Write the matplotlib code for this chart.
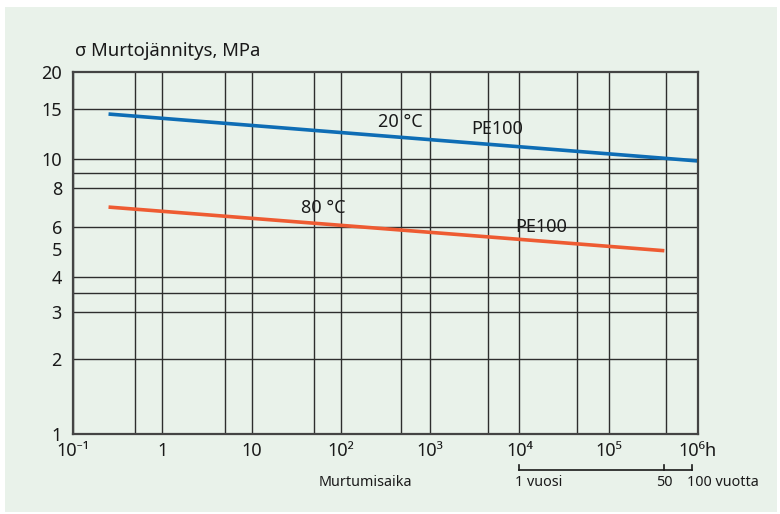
import matplotlib
matplotlib.use('Agg')
import matplotlib.pyplot as plt
from matplotlib.patches import Rectangle
from matplotlib.transforms import offset_copy
import numpy as np

plt.rcParams['font.family'] = ['Noto Sans', 'DejaVu Sans']

# PE100 murtojännitys (MPa) vs. murtumisaika (h), luettu kuvasta
hours_20c = [0.25, 1e6]
stress_20c = [14.4, 9.85]
hours_80c = [0.25, 4.2e5]
stress_80c = [6.95, 4.95]

x_tick_values = [1e-1, 1, 10, 1e2, 1e3, 1e4, 1e5, 1e6]
x_tick_labels = ['10⁻¹', '1', '10', '10²', '10³', '10⁴', '10⁵', '10⁶h']
x_grid_extra = [0.5, 5, 50, 470, 4400, 44000, 440000]
y_tick_values = [1, 2, 3, 4, 5, 6, 8, 10, 15, 20]
y_grid_values = [2, 3, 3.5, 4, 6, 8, 9, 10, 15]
year_marks_h = [1e4, 4.2e5, 8.5e5]
year_labels = ['1 vuosi', '50', '100 vuotta']

# the printed stress axis is not a clean log axis, so map it piecewise
y_cal = np.log10([1, 2, 3, 4, 6, 8, 10, 15, 20])
y_cal_frac = (434 - np.array([434, 359, 312, 277, 227, 188, 159, 109, 72])) / 362.0


def y_forward(y):
    y = np.clip(np.asarray(y, dtype=float), 1e-6, None)
    return np.interp(np.log10(y), y_cal, y_cal_frac)


def y_inverse(f):
    return 10 ** np.interp(f, y_cal_frac, y_cal)


BG = '#e9f2ea'
GRID = '#2e2e2e'
INK = '#1a1a1a'

fig = plt.figure(figsize=(7.8, 5.14), dpi=100)
fig.patch.set_facecolor('white')
fig.patches.append(Rectangle((5 / 780, 2 / 514), 772 / 780, 505 / 514,
                             transform=fig.transFigure, facecolor=BG,
                             edgecolor='none', zorder=-1))

ax = fig.add_axes([73 / 780, 80 / 514, 625 / 780, 362 / 514])
ax.set_facecolor(BG)
ax.set_xscale('log')
ax.set_yscale('function', functions=(y_forward, y_inverse))
ax.set_xlim(0.1, 1e6)
ax.set_ylim(1, 20)

ax.set_xticks(x_tick_values)
ax.set_xticklabels(x_tick_labels)
ax.set_xticks(x_grid_extra, minor=True)
ax.set_yticks(y_tick_values)
ax.set_yticklabels([str(v) for v in y_tick_values])
ax.set_yticks(y_grid_values, minor=True)
ax.yaxis.remove_overlapping_locs = False
ax.xaxis.set_minor_formatter(matplotlib.ticker.NullFormatter())
ax.yaxis.set_minor_formatter(matplotlib.ticker.NullFormatter())

ax.tick_params(which='both', length=0)
ax.tick_params(axis='x', labelsize=13, pad=6, colors=INK)
ax.tick_params(axis='y', labelsize=13, pad=8, colors=INK)
ax.grid(which='both', axis='x', color=GRID, linewidth=1.0)
ax.grid(which='minor', axis='y', color=GRID, linewidth=1.0)
ax.grid(which='major', axis='y', visible=False)
ax.set_axisbelow(True)
for s in ax.spines.values():
    s.set_color('#444444')
    s.set_linewidth(1.6)

ax.plot(hours_20c, stress_20c, color='#0e6db5', linewidth=2.6, solid_capstyle='butt')
ax.plot(hours_80c, stress_80c, color='#ee5b32', linewidth=2.6, solid_capstyle='butt')

ax.text(460, 13.5, '20 °C', fontsize=13, ha='center', va='center', color=INK)
ax.text(5600, 12.8, 'PE100', fontsize=13, ha='center', va='center', color=INK)
ax.text(63, 6.9, '80 °C', fontsize=13, ha='center', va='center', color=INK)
ax.text(17400, 6.02, 'PE100', fontsize=13, ha='center', va='center', color=INK)

fig.text(75 / 780, 1 - 51 / 514, 'σ Murtojännitys, MPa', fontsize=13.3,
         ha='left', va='center', color=INK)

# time axis annotations below the chart
bt = ax.get_xaxis_transform()
ax.text(186, -0.135, 'Murtumisaika', transform=bt, fontsize=10.3,
        ha='center', va='center', color=INK)
ax.plot([year_marks_h[0], year_marks_h[-1]], [-0.0994, -0.0994], transform=bt,
        color=INK, linewidth=1.2, clip_on=False)
for h in year_marks_h:
    ax.plot([h, h], [-0.0994, -0.086], transform=bt, color=INK,
            linewidth=1.2, clip_on=False)
ax.text(year_marks_h[0], -0.135, year_labels[0],
        transform=offset_copy(bt, fig=fig, x=-4, units='dots'), fontsize=10.3,
        ha='left', va='center', color=INK)
ax.text(year_marks_h[1], -0.135, year_labels[1], transform=bt, fontsize=10.3,
        ha='center', va='center', color=INK)
ax.text(year_marks_h[2], -0.135, year_labels[2],
        transform=offset_copy(bt, fig=fig, x=-5, units='dots'), fontsize=10.3,
        ha='left', va='center', color=INK)

fig.savefig('out.png', dpi=100)
